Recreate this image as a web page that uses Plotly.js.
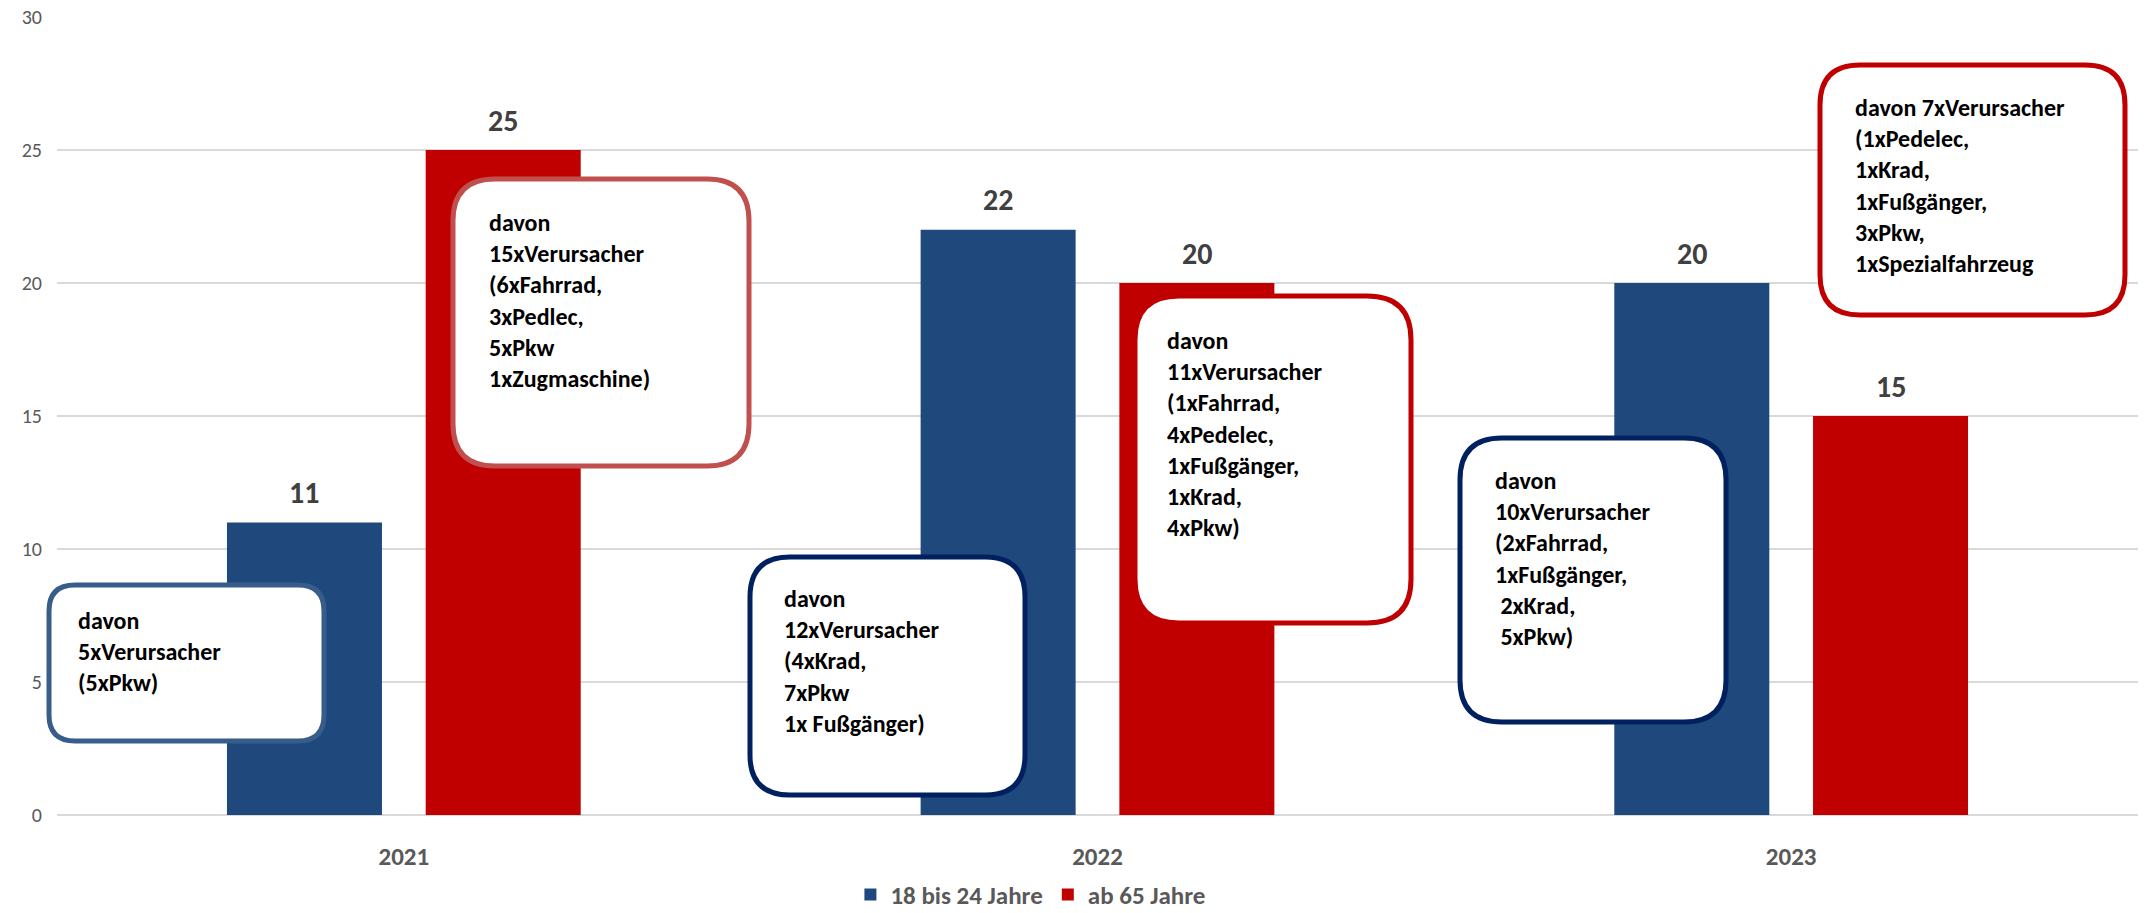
<!DOCTYPE html>
<html>
<head>
<meta charset="utf-8">
<script src="https://cdn.plot.ly/plotly-3.0.1.min.js"></script>
<style>html,body{margin:0;padding:0;background:#fff;}#chart{width:2146px;height:913px;}</style>
</head>
<body>
<div id="chart"></div>
<script>
// ---- data ----
const years = ['2021', '2022', '2023'];
const seriesNames = ['18 bis 24 Jahre', 'ab 65 Jahre'];
const young = [11, 22, 20];
const senior = [25, 20, 15];
const boxTexts = [
  'davon<br>5xVerursacher<br>(5xPkw)',
  'davon<br>15xVerursacher<br>(6xFahrrad,<br>3xPedlec,<br>5xPkw<br>1xZugmaschine)',
  'davon<br>12xVerursacher<br>(4xKrad,<br>7xPkw<br>1x Fußgänger)',
  'davon<br>11xVerursacher<br>(1xFahrrad,<br>4xPedelec,<br>1xFußgänger,<br>1xKrad,<br>4xPkw)',
  'davon<br>10xVerursacher<br>(2xFahrrad,<br>1xFußgänger,<br>\u00a02xKrad,<br>\u00a05xPkw)',
  'davon 7xVerursacher<br>(1xPedelec,<br>1xKrad,<br>1xFußgänger,<br>3xPkw,<br>1xSpezialfahrzeug'
];

// ---- styling / layout geometry ----
const FONT = 'Carlito, Lato, "Open Sans", sans-serif';
const W = 2146, H = 913;
const M = {l: 57, r: 8, t: 17, b: 98, autoexpand: false};
const PW = W - M.l - M.r, PH = H - M.t - M.b;
const X = px => (px - M.l) / PW;
const Y = py => (M.t + PH - py) / PH;
const BARGAP = 0.427, BARGROUPGAP = 0.22;
const catW = PW / years.length;
const offset = catW * (1 - BARGAP) / 4;

function rrect(b) {
  const [x0, y0, x1, y1] = b.box, r = b.r;
  const p = (x, y) => X(x).toFixed(5) + ',' + Y(y).toFixed(5);
  return 'M' + p(x0 + r, y0) + ' L' + p(x1 - r, y0) + ' Q' + p(x1, y0) + ' ' + p(x1, y0 + r) +
    ' L' + p(x1, y1 - r) + ' Q' + p(x1, y1) + ' ' + p(x1 - r, y1) +
    ' L' + p(x0 + r, y1) + ' Q' + p(x0, y1) + ' ' + p(x0, y1 - r) +
    ' L' + p(x0, y0 + r) + ' Q' + p(x0, y0) + ' ' + p(x0 + r, y0) + ' Z';
}

const boxes = [
  {box: [49, 585, 324, 741], r: 26, color: '#385D8A', tx: 76, ty: 604},
  {box: [453, 179, 749, 466], r: 42, color: '#C0504D', tx: 487, ty: 206},
  {box: [750, 557, 1025, 795], r: 40, color: '#002060', tx: 782, ty: 582},
  {box: [1135, 296, 1411, 623], r: 44, color: '#C00000', tx: 1165, ty: 324},
  {box: [1460, 438, 1726, 722], r: 42, color: '#002060', tx: 1493, ty: 464},
  {box: [1820, 65, 2125, 315], r: 40, color: '#C00000', tx: 1853, ty: 91}
];

const shapes = boxes.map(b => ({
  type: 'path', xref: 'paper', yref: 'paper', path: rrect(b),
  fillcolor: '#FFFFFF', line: {color: b.color, width: 5}, layer: 'above'
}));

const annotations = [];
boxes.forEach((b, i) => annotations.push({
  xref: 'paper', yref: 'paper', x: X(b.tx), y: Y(b.ty), xanchor: 'left', yanchor: 'top',
  align: 'left', showarrow: false, text: boxTexts[i],
  font: {family: FONT, size: 24, color: '#000000', weight: 'bold'}
}));
[young, senior].forEach((vals, s) => vals.forEach((v, i) => annotations.push({
  xref: 'x', yref: 'y', x: i, y: v, xshift: s === 0 ? -offset : offset, yshift: 30,
  xanchor: 'center', yanchor: 'middle', showarrow: false, text: String(v),
  font: {family: FONT, size: 30, color: '#404040', weight: 'bold'}
})));

const traces = [
  {type: 'bar', name: seriesNames[0], x: years, y: young, marker: {color: '#1F497D'}, hoverinfo: 'none'},
  {type: 'bar', name: seriesNames[1], x: years, y: senior, marker: {color: '#C00000'}, hoverinfo: 'none'}
];

const layout = {
  width: W, height: H, margin: M,
  paper_bgcolor: '#FFFFFF', plot_bgcolor: '#FFFFFF',
  barmode: 'group', bargap: BARGAP, bargroupgap: BARGROUPGAP,
  font: {family: FONT},
  xaxis: {type: 'category', range: [-0.5, 2.5], autorange: false, showgrid: false, showline: false,
          ticks: '', ticklabelstandoff: 24,
          tickfont: {family: FONT, size: 25, color: '#595959', weight: 'bold'}},
  yaxis: {range: [0, 30], autorange: false, dtick: 5, showgrid: true, gridcolor: '#D9D9D9', gridwidth: 2,
          zeroline: true, zerolinecolor: '#D9D9D9', zerolinewidth: 2, showline: false,
          ticklabelstandoff: 14, tickfont: {family: FONT, size: 20, color: '#595959'}},
  showlegend: true,
  legend: {orientation: 'h', x: 0.468, xanchor: 'center', y: -0.1, yanchor: 'middle',
           font: {family: FONT, size: 25, color: '#595959', weight: 'bold'}, itemwidth: 30},
  shapes: shapes, annotations: annotations
};

Plotly.newPlot('chart', traces, layout, {displayModeBar: false, staticPlot: true});
</script>
</body>
</html>
